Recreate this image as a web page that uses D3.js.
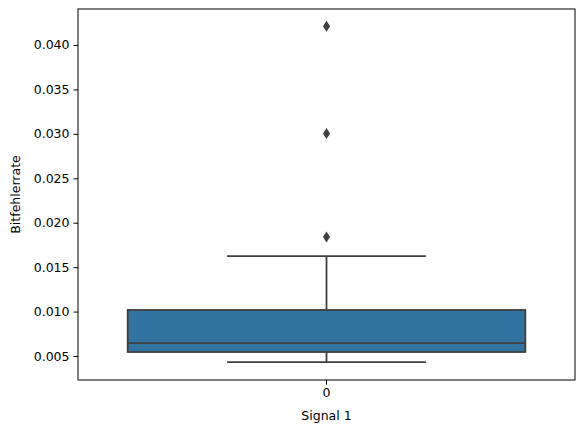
<!DOCTYPE html>
<html>
<head>
<meta charset="utf-8">
<script src="https://cdn.jsdelivr.net/npm/d3@7"></script>
<style>
body{margin:0;background:#fff;font-family:"DejaVu Sans",sans-serif;}
</style>
</head>
<body>
<div id="chart"></div>
<script>
// data
const categories = ['0'];
const q1 = [0.00545];
const median = [0.00646];
const q3 = [0.01018];
const whiskerLow = [0.00432];
const whiskerHigh = [0.01625];
const outliers = [[0.0421, 0.03004, 0.01839]];
const yTicks = [0.005, 0.010, 0.015, 0.020, 0.025, 0.030, 0.035, 0.040];

const W = 585, H = 432;
const m = {left: 78, right: 10, top: 9, bottom: 52};
const fs = 12.5;

const svg = d3.select('#chart').append('svg')
	.attr('width', W).attr('height', H);

const x = d3.scaleBand().domain(categories)
	.range([m.left, W - m.right]).paddingInner(0.2).paddingOuter(0.1);
const y = d3.scaleLinear().domain([0.0023, 0.04405])
	.range([H - m.bottom, m.top]);

const lineCol = '#3f3f3f';
const g = svg.append('g');

categories.forEach((c, i) => {
	const x0 = x(c), bw = x.bandwidth(), cx = x0 + bw / 2;
	// whiskers
	g.append('line').attr('x1', cx).attr('x2', cx)
		.attr('y1', y(q3[i])).attr('y2', y(whiskerHigh[i]))
		.attr('stroke', lineCol).attr('stroke-width', 1.8);
	g.append('line').attr('x1', cx).attr('x2', cx)
		.attr('y1', y(q1[i])).attr('y2', y(whiskerLow[i]))
		.attr('stroke', lineCol).attr('stroke-width', 1.8);
	[whiskerHigh[i], whiskerLow[i]].forEach(v => {
		g.append('line').attr('x1', cx - bw / 4).attr('x2', cx + bw / 4)
			.attr('y1', y(v)).attr('y2', y(v))
			.attr('stroke', lineCol).attr('stroke-width', 1.8);
	});
	g.append('rect').attr('x', x0).attr('width', bw)
		.attr('y', y(q3[i])).attr('height', y(q1[i]) - y(q3[i]))
		.attr('fill', '#3274a1').attr('stroke', lineCol).attr('stroke-width', 1.8);
	g.append('line').attr('x1', x0).attr('x2', x0 + bw)
		.attr('y1', y(median[i])).attr('y2', y(median[i]))
		.attr('stroke', lineCol).attr('stroke-width', 1.8);
	outliers[i].forEach(v => {
		g.append('path')
			.attr('d', `M${cx},${y(v) - 5.5}L${cx + 3.5},${y(v)}L${cx},${y(v) + 5.5}L${cx - 3.5},${y(v)}Z`)
			.attr('fill', lineCol);
	});
});

// axes
const yAxis = svg.append('g').attr('transform', `translate(${m.left},0)`)
	.call(d3.axisLeft(y).tickValues(yTicks).tickFormat(d3.format('.3f')).tickSize(4.5).tickPadding(4));
const xAxis = svg.append('g').attr('transform', `translate(0,${H - m.bottom})`)
	.call(d3.axisBottom(x).tickSize(4.5).tickPadding(4));
[xAxis, yAxis].forEach(a => {
	a.select('.domain').remove();
	a.selectAll('text').attr('font-size', fs).attr('fill', '#000').attr('font-family', 'DejaVu Sans');
	a.selectAll('line').attr('stroke', '#000').attr('stroke-width', 1);
});

svg.append('rect').attr('x', m.left).attr('y', m.top)
	.attr('width', W - m.left - m.right).attr('height', H - m.top - m.bottom)
	.attr('fill', 'none').attr('stroke', '#000').attr('stroke-width', 1);

svg.append('text').attr('x', (m.left + W - m.right) / 2).attr('y', 420)
	.attr('text-anchor', 'middle').attr('font-size', fs).text('Signal 1');
svg.append('text').attr('transform', `translate(20,${(m.top + H - m.bottom) / 2}) rotate(-90)`)
	.attr('text-anchor', 'middle').attr('font-size', fs).text('Bitfehlerrate');
</script>
</body>
</html>
